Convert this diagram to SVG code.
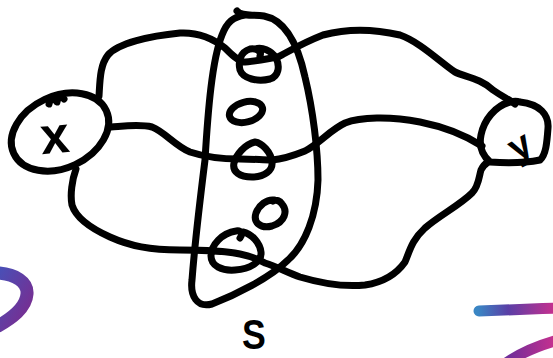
<svg xmlns="http://www.w3.org/2000/svg" width="553" height="358" viewBox="0 0 553 358">
<defs>
<style>
.ink{fill:none;stroke:#000;stroke-width:7;stroke-linecap:round;stroke-linejoin:round}
.lbl{font-family:"Liberation Sans","DejaVu Sans",sans-serif;font-weight:bold;fill:#000}
.deco{fill:none;stroke-linecap:round}
</style>
<linearGradient id="gl" x1="0" y1="0" x2="1" y2="1">
<stop offset="0" stop-color="#4a4fb6"/><stop offset="1" stop-color="#7b2b8e"/>
</linearGradient>
<linearGradient id="gr" x1="478" y1="0" x2="553" y2="0" gradientUnits="userSpaceOnUse">
<stop offset="0" stop-color="#3a86c4"/><stop offset="0.4" stop-color="#5a3fa6"/><stop offset="1" stop-color="#c3308f"/>
</linearGradient>
<linearGradient id="gr2" x1="505" y1="0" x2="553" y2="0" gradientUnits="userSpaceOnUse">
<stop offset="0" stop-color="#6a2e9a"/><stop offset="1" stop-color="#c3308f"/>
</linearGradient>
</defs>
<rect width="553" height="358" fill="#fff"/>

<g id="decor">
<path class="deco" stroke="url(#gl)" stroke-width="13" d="M -2,273 C 15,274 28,282 27,294 C 26,308 12,318 -2,326"/>
<path class="deco" stroke="url(#gr)" stroke-width="11" d="M 479,311 C 500,310 530,309 558,308"/>
<path class="deco" stroke="url(#gr2)" stroke-width="11" d="M 505,364 C 520,353 540,345 558,340"/>
</g>

<g id="connectors">
<path class="ink" d="M 99,96 C 100,80 100,65 108,55 C 118,43 150,36 180,33 C 200,32 215,40 225,48 C 232,55 237,60 243,62 C 252,62 266,59 278,57 C 288,52 300,44 323,35 C 345,29 370,28 400,35 C 420,42 440,62 455,72 C 465,77 480,78 493,90 C 503,97 510,100 515,104"/>
<path class="ink" d="M 111,127 C 125,126 140,124 152,127 C 165,132 175,146 190,152 C 205,157 225,159 240,159 C 255,159 262,160 272,160 C 285,159 295,155 305,151 C 320,143 330,130 345,123 C 360,117 390,116 420,122 C 445,127 465,135 482,146"/>
<path class="ink" d="M 76,169 C 72,180 70,195 72,205 C 76,218 90,228 110,237 C 130,246 150,250 180,250 C 200,250 225,251 240,254 C 250,256 258,259 265,263 C 278,267 288,273 300,277 C 320,283 345,287 365,285 C 385,282 398,272 405,262 C 410,250 412,240 425,228 C 440,215 460,205 472,193 C 479,186 479,176 481,170 C 483,166 485,164 487,163"/>
</g>

<g id="node-S">
<path class="ink" d="M 237,11 C 242,17 252,14 264,16 C 285,20 298,45 305,77 C 313,110 318,150 318,180 C 317,215 305,245 288,260 C 270,278 235,295 212,304 C 197,308 190,296 192,280 C 195,240 200,200 205,160 C 208,110 212,60 222,35 C 227,22 233,17 245,15"/>
<path class="ink" d="M 260,56 C 262,51 256,48 250,49 C 240,52 238,62 240,70 C 243,79 258,82 270,79 C 279,76 280,66 276,58 C 271,50 262,47 255,49"/>
<ellipse class="ink" cx="246" cy="112" rx="17" ry="10" transform="rotate(-15 246 112)"/>
<path class="ink" d="M 255,142 C 245,144 236,155 234,163 C 232,172 240,177 252,177 C 265,177 273,170 272,162 C 271,152 262,143 255,142 Z"/>
<path class="ink" d="M 273,201 C 276,199 280,201 282,204 C 288,211 285,222 272,226 C 260,229 253,222 256,213 C 259,205 267,199 274,200"/>
<path class="ink" d="M 240,238 C 243,234 241,230 236,231 C 222,233 211,245 211,256 C 211,266 222,271 235,270 C 250,269 262,262 261,252 C 260,243 252,234 243,232"/>
<text class="lbl" x="254" y="349" font-size="42" text-anchor="middle" transform="translate(254 0) scale(0.85 1) translate(-254 0)">S</text>
</g>

<g id="node-x">
<ellipse class="ink" cx="60" cy="132" rx="51" ry="36" transform="rotate(-25 60 132)"/>
<path class="ink" stroke-width="4" d="M 49,104 C 50,99 53,98 55,100 M 57,102 C 58,97 61,96 64,99"/>
<text class="lbl" x="55" y="153" font-size="52" text-anchor="middle" transform="rotate(-5 55 140)">x</text>
</g>

<g id="node-y">
<path class="ink" d="M 520,102 C 540,104 549,115 548,128 C 547,142 546,155 540,160 C 525,163 505,163 490,162 C 482,155 479,145 481,135 C 484,120 495,106 510,102 C 514,101 517,101 520,102 Z"/>
<text class="lbl" x="520" y="158" font-size="38" text-anchor="middle" transform="rotate(-30 520 146)">y</text>
</g>
</svg>
